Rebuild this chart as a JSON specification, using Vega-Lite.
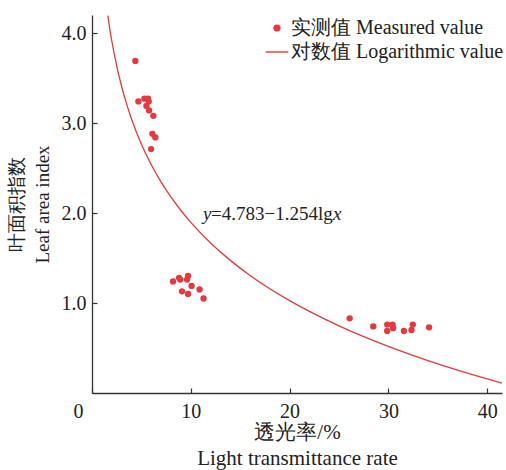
{
  "$schema": "https://vega.github.io/schema/vega-lite/v6.json",
  "width": 410,
  "height": 378,
  "autosize": "none",
  "padding": {"left": 92, "top": 15, "right": 4, "bottom": 77},
  "background": "white",
  "config": {
    "view": {"stroke": null},
    "font": "Liberation Serif",
    "axis": {
      "grid": false,
      "domainColor": "#333333",
      "domainWidth": 1.3,
      "tickColor": "#333333",
      "tickWidth": 1.2,
      "tickSize": -5,
      "labelFont": "Liberation Serif",
      "labelFontSize": 20,
      "labelColor": "#222222",
      "titleFont": "Liberation Serif",
      "titleFontWeight": "normal",
      "titleColor": "#222222"
    },
    "legend": {
      "labelFont": "Liberation Serif",
      "labelFontSize": 20,
      "labelColor": "#222222",
      "labelLimit": 400
    }
  },
  "datasets": {
    "measured": [
      {"x": 4.39, "y": 3.69, "series": "实测值 Measured value"},
      {"x": 4.70, "y": 3.24, "series": "实测值 Measured value"},
      {"x": 5.30, "y": 3.27, "series": "实测值 Measured value"},
      {"x": 5.67, "y": 3.27, "series": "实测值 Measured value"},
      {"x": 5.74, "y": 3.24, "series": "实测值 Measured value"},
      {"x": 5.51, "y": 3.19, "series": "实测值 Measured value"},
      {"x": 5.78, "y": 3.14, "series": "实测值 Measured value"},
      {"x": 6.21, "y": 3.08, "series": "实测值 Measured value"},
      {"x": 6.11, "y": 2.88, "series": "实测值 Measured value"},
      {"x": 6.41, "y": 2.84, "series": "实测值 Measured value"},
      {"x": 5.98, "y": 2.71, "series": "实测值 Measured value"},
      {"x": 8.20, "y": 1.24, "series": "实测值 Measured value"},
      {"x": 8.81, "y": 1.28, "series": "实测值 Measured value"},
      {"x": 8.94, "y": 1.26, "series": "实测值 Measured value"},
      {"x": 9.62, "y": 1.26, "series": "实测值 Measured value"},
      {"x": 9.72, "y": 1.30, "series": "实测值 Measured value"},
      {"x": 10.08, "y": 1.19, "series": "实测值 Measured value"},
      {"x": 9.11, "y": 1.13, "series": "实测值 Measured value"},
      {"x": 9.72, "y": 1.10, "series": "实测值 Measured value"},
      {"x": 10.89, "y": 1.15, "series": "实测值 Measured value"},
      {"x": 11.29, "y": 1.05, "series": "实测值 Measured value"},
      {"x": 26.08, "y": 0.83, "series": "实测值 Measured value"},
      {"x": 28.47, "y": 0.74, "series": "实测值 Measured value"},
      {"x": 29.88, "y": 0.76, "series": "实测值 Measured value"},
      {"x": 30.42, "y": 0.76, "series": "实测值 Measured value"},
      {"x": 30.48, "y": 0.72, "series": "实测值 Measured value"},
      {"x": 29.88, "y": 0.69, "series": "实测值 Measured value"},
      {"x": 31.57, "y": 0.69, "series": "实测值 Measured value"},
      {"x": 32.47, "y": 0.76, "series": "实测值 Measured value"},
      {"x": 32.34, "y": 0.70, "series": "实测值 Measured value"},
      {"x": 34.12, "y": 0.73, "series": "实测值 Measured value"}
    ],
    "fitted": [
      {"x": 1.6, "y": 4.1936, "series": "对数值 Logarithmic value"},
      {"x": 1.8, "y": 4.0459, "series": "对数值 Logarithmic value"},
      {"x": 2, "y": 3.9138, "series": "对数值 Logarithmic value"},
      {"x": 2.5, "y": 3.6340, "series": "对数值 Logarithmic value"},
      {"x": 3, "y": 3.4053, "series": "对数值 Logarithmic value"},
      {"x": 3.5, "y": 3.2120, "series": "对数值 Logarithmic value"},
      {"x": 4, "y": 3.0446, "series": "对数值 Logarithmic value"},
      {"x": 5, "y": 2.7648, "series": "对数值 Logarithmic value"},
      {"x": 6, "y": 2.5361, "series": "对数值 Logarithmic value"},
      {"x": 7, "y": 2.3428, "series": "对数值 Logarithmic value"},
      {"x": 8, "y": 2.1754, "series": "对数值 Logarithmic value"},
      {"x": 9, "y": 2.0277, "series": "对数值 Logarithmic value"},
      {"x": 10, "y": 1.8955, "series": "对数值 Logarithmic value"},
      {"x": 12, "y": 1.6669, "series": "对数值 Logarithmic value"},
      {"x": 14, "y": 1.4736, "series": "对数值 Logarithmic value"},
      {"x": 16, "y": 1.3062, "series": "对数值 Logarithmic value"},
      {"x": 18, "y": 1.1584, "series": "对数值 Logarithmic value"},
      {"x": 20, "y": 1.0264, "series": "对数值 Logarithmic value"},
      {"x": 22, "y": 0.9069, "series": "对数值 Logarithmic value"},
      {"x": 25, "y": 0.7465, "series": "对数值 Logarithmic value"},
      {"x": 28, "y": 0.6044, "series": "对数值 Logarithmic value"},
      {"x": 31, "y": 0.4768, "series": "对数值 Logarithmic value"},
      {"x": 34, "y": 0.3609, "series": "对数值 Logarithmic value"},
      {"x": 37, "y": 0.2549, "series": "对数值 Logarithmic value"},
      {"x": 40, "y": 0.1571, "series": "对数值 Logarithmic value"},
      {"x": 41.5, "y": 0.1110, "series": "对数值 Logarithmic value"}
    ],
    "eq": [{"x": 11.23, "y": 1.92}]
  },
  "encoding": {
    "x": {
      "field": "x",
      "type": "quantitative",
      "scale": {"domain": [0, 41.5], "nice": false, "zero": false},
      "axis": {
        "title": ["透光率/%", "Light transmittance rate"],
        "titleFontSize": 21,
        "titleLineHeight": 26,
        "values": [0, 10, 20, 30, 40],
        "labelFlush": false,
        "labelPadding": 13,
        "labelOffset": {"condition": {"test": "datum.value === 0", "value": -14}, "value": 0},
        "titlePadding": 0
      }
    },
    "y": {
      "field": "y",
      "type": "quantitative",
      "scale": {"domain": [0, 4.2], "nice": false, "zero": false},
      "axis": {
        "title": ["叶面积指数", "Leaf area index"],
        "titleFontSize": 19,
        "titleLineHeight": 26,
        "values": [1, 2, 3, 4],
        "format": ".1f",
        "labelPadding": 11,
        "titlePadding": 9
      }
    }
  },
  "layer": [
    {
      "data": {"name": "measured"},
      "mark": {"type": "point", "filled": true, "size": 40, "opacity": 1},
      "encoding": {
        "color": {
          "field": "series",
          "type": "nominal",
          "scale": {"domain": ["实测值 Measured value", "对数值 Logarithmic value"], "range": ["#e3393f", "#e3393f"]},
          "legend": {
            "title": null,
            "orient": "none",
            "legendX": 175,
            "legendY": 3,
            "padding": 0,
            "symbolSize": 511,
            "labelOffset": 4,
            "rowPadding": 4,
            "encode": {
              "symbols": {
                "update": {
                  "shape": {"signal": "datum.value === '对数值 Logarithmic value' ? 'stroke' : 'circle'"},
                  "size": {"signal": "datum.value === '对数值 Logarithmic value' ? 511 : 34"},
                  "fill": {"value": "#e3393f"},
                  "stroke": {"value": "#e3393f"},
                  "strokeWidth": {"value": 1.4},
                  "opacity": {"value": 1}
                }
              }
            }
          }
        }
      }
    },
    {
      "data": {"name": "fitted"},
      "mark": {"type": "line", "strokeWidth": 1.3, "interpolate": "monotone"},
      "encoding": {
        "color": {
          "field": "series",
          "type": "nominal",
          "legend": {
            "title": null,
            "orient": "none",
            "legendX": 175,
            "legendY": 3,
            "padding": 0,
            "symbolSize": 511,
            "labelOffset": 4,
            "rowPadding": 4,
            "encode": {
              "symbols": {
                "update": {
                  "shape": {"signal": "datum.value === '对数值 Logarithmic value' ? 'stroke' : 'circle'"},
                  "size": {"signal": "datum.value === '对数值 Logarithmic value' ? 511 : 34"},
                  "fill": {"value": "#e3393f"},
                  "stroke": {"value": "#e3393f"},
                  "strokeWidth": {"value": 1.4},
                  "opacity": {"value": 1}
                }
              }
            }
          }
        }
      }
    },
    {
      "data": {"name": "eq"},
      "mark": {"type": "text", "text": "y", "fontStyle": "italic", "align": "left", "baseline": "alphabetic", "fontSize": 19, "font": "Liberation Serif", "color": "#222222"},
      "encoding": {}
    },
    {
      "data": {"name": "eq"},
      "mark": {"type": "text", "text": "=4.783−1.254lg", "align": "left", "baseline": "alphabetic", "dx": 8, "fontSize": 19, "font": "Liberation Serif", "color": "#222222"},
      "encoding": {}
    },
    {
      "data": {"name": "eq"},
      "mark": {"type": "text", "text": "x", "fontStyle": "italic", "align": "left", "baseline": "alphabetic", "dx": 130, "fontSize": 19, "font": "Liberation Serif", "color": "#222222"},
      "encoding": {}
    }
  ]
}
